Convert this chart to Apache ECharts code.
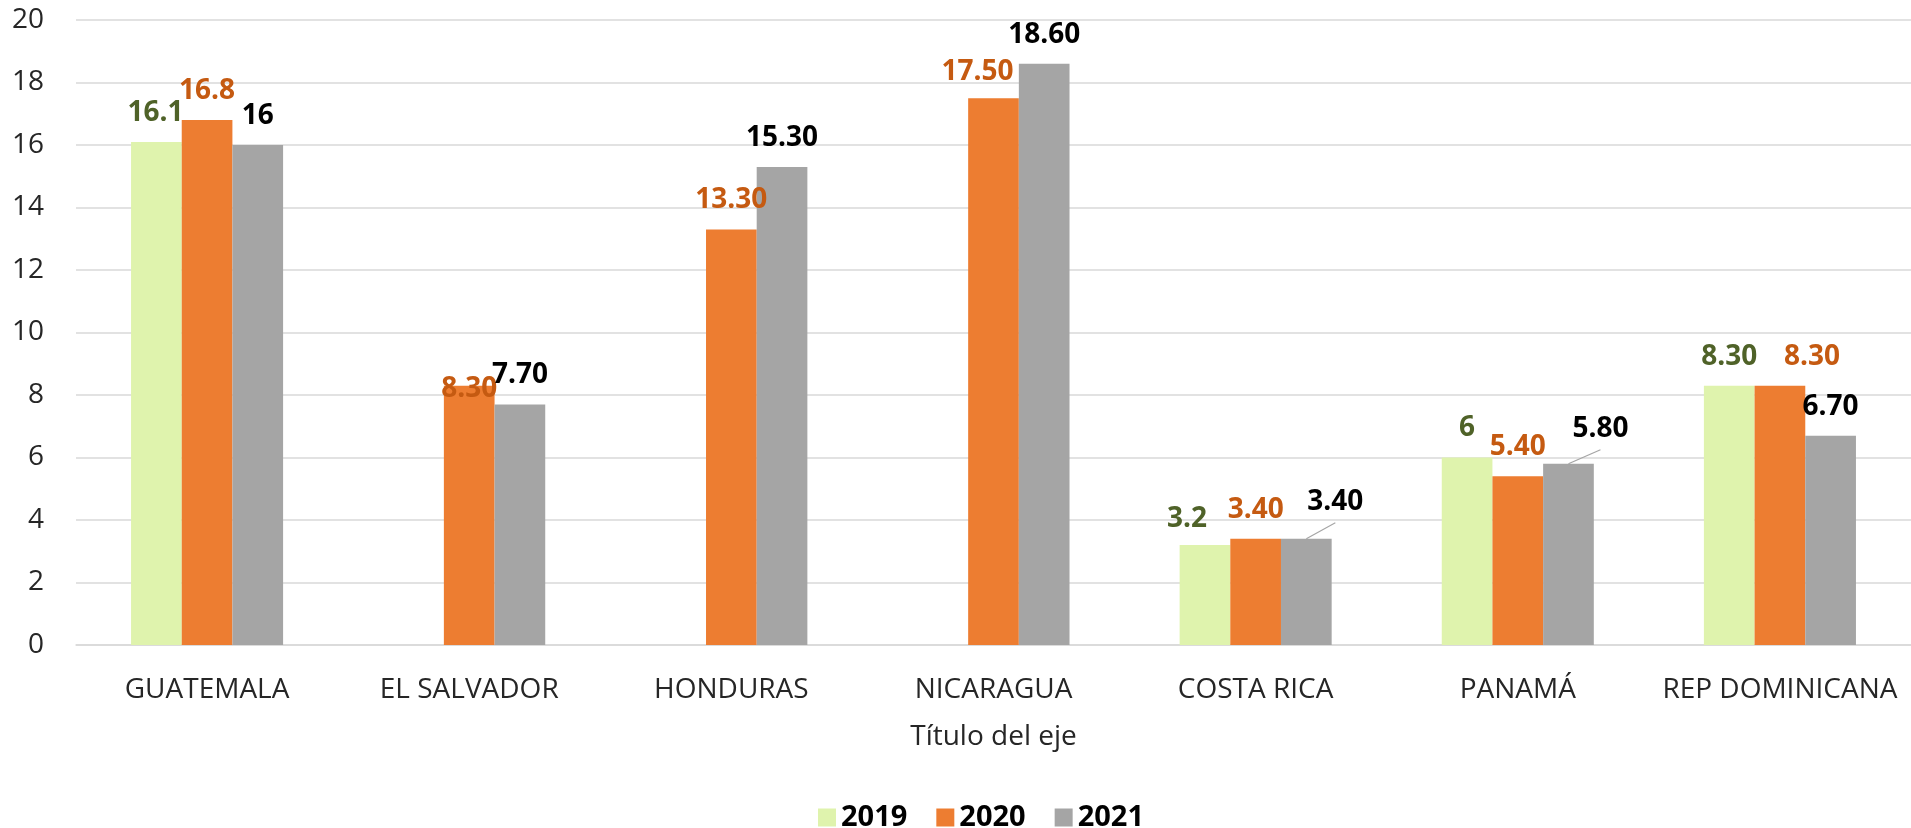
<!DOCTYPE html>
<html>
<head>
<meta charset="utf-8">
<script src="https://cdn.jsdelivr.net/npm/echarts@6/dist/echarts.min.js"></script>
<style>
  html, body { margin: 0; padding: 0; background: #fff; }
  #chart { width: 1911px; height: 828px; }
</style>
</head>
<body>
<div id="chart"></div>
<script>
// datos
var categories = ['GUATEMALA', 'EL SALVADOR', 'HONDURAS', 'NICARAGUA', 'COSTA RICA', 'PANAMÁ', 'REP DOMINICANA'];
var years = ['2019', '2020', '2021'];
var values2019 = [16.1, null, null, null, 3.2, 6, 8.3];
var values2020 = [16.8, 8.3, 13.3, 17.5, 3.4, 5.4, 8.3];
var values2021 = [16, 7.7, 15.3, 18.6, 3.4, 5.8, 6.7];
var labels2019 = ['16.1', '', '', '', '3.2', '6', '8.30'];
var labels2020 = ['16.8', '8.30', '13.30', '17.50', '3.40', '5.40', '8.30'];
var labels2021 = ['16', '7.70', '15.30', '18.60', '3.40', '5.80', '6.70'];
var yTicks = { min: 0, max: 20, step: 2 };

// etiquetas movidas a mano en el original (dx, dy)
var labelShift = [
    [[-1, 0], [0, 0], [0, 0], [0, 0], [-18, 3], [0, 0], [0, 0]],
    [[0, 0], [0, 32], [0, 0], [-16, 3], [0, 0], [0, 0], [32, 0]],
    [[0, 0], [0, 0], [0, 0], [0, 0], [29, -8], [32, -6], [0, 0]]
];
// las que llevan linea guia: [serie, indice]
var leaders = [[2, 4], [2, 5]];

var colors = ['#dff3ad', '#ed7d31', '#a5a5a5'];
var labelColors = ['#4f6228', '#c55a11', '#000000'];
var font = '"Open Sans", sans-serif';
var labelDistance = 15;
var labelSize = 28;

function makeSeries(idx, vals, texts) {
    return {
        name: years[idx],
        type: 'bar',
        barGap: '0%',
        barCategoryGap: '42%',
        itemStyle: { color: colors[idx] },
        data: vals,
        label: {
            show: true,
            position: 'top',
            distance: labelDistance,
            fontFamily: font,
            fontSize: labelSize,
            fontWeight: 'bold',
            color: labelColors[idx],
            formatter: function (p) { return texts[p.dataIndex]; }
        },
        labelLayout: function (params) {
            var s = labelShift[idx][params.dataIndex];
            return { dx: s[0], dy: s[1] };
        }
    };
}

var myChart = echarts.init(document.getElementById('chart'));
myChart.setOption({
    animation: false,
    textStyle: { fontFamily: font },
    grid: { left: 76, width: 1841, top: 20, bottom: 183, containLabel: false },
    legend: {
        data: years,
        left: 813,
        top: 798,
        itemWidth: 18,
        itemHeight: 18,
        itemGap: 29,
        icon: 'rect',
        textStyle: { fontSize: 29, fontWeight: 'bold', color: '#000', fontFamily: font }
    },
    xAxis: {
        type: 'category',
        data: categories,
        name: 'Título del eje',
        nameLocation: 'middle',
        nameGap: 78,
        nameTextStyle: { fontSize: 28, color: '#262626', fontFamily: font },
        axisLine: { lineStyle: { color: '#d9d9d9', width: 1.5 } },
        axisTick: { show: false },
        axisLabel: { fontSize: 28, color: '#262626', margin: 31, interval: 0, fontFamily: font }
    },
    yAxis: {
        type: 'value',
        min: yTicks.min,
        max: yTicks.max,
        interval: yTicks.step,
        axisLine: { show: false },
        axisTick: { show: false },
        axisLabel: { fontSize: 28, color: '#262626', margin: 32, fontFamily: font },
        splitLine: { lineStyle: { color: '#d9d9d9', width: 1.5 } }
    },
    series: [
        makeSeries(0, values2019, labels2019),
        makeSeries(1, values2020, labels2020),
        makeSeries(2, values2021, labels2021)
    ]
});

// lineas guia: desde el centro superior de la barra hasta debajo de la etiqueta movida
var guideLines = leaders.map(function (d) {
    var lay = myChart.getModel().getSeriesByIndex(d[0]).getData().getItemLayout(d[1]);
    var s = labelShift[d[0]][d[1]];
    var topY = Math.min(lay.y, lay.y + lay.height);
    var cx = lay.x + lay.width / 2;
    var labelCenterY = topY - labelDistance - labelSize / 2 + s[1];
    return {
        type: 'line',
        z: 10,
        shape: { x1: cx, y1: topY, x2: cx + s[0], y2: labelCenterY + labelSize / 2 + 7 },
        style: { stroke: '#a5a5a5', lineWidth: 1.2 }
    };
});
myChart.setOption({ graphic: guideLines });
</script>
</body>
</html>
